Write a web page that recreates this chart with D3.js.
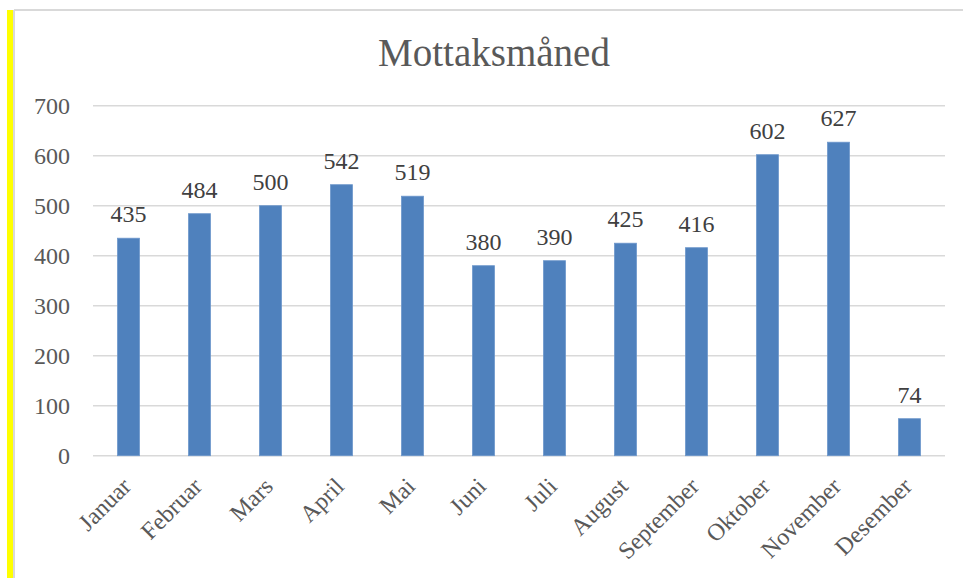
<!DOCTYPE html>
<html>
<head>
<meta charset="utf-8">
<script src="https://cdn.jsdelivr.net/npm/d3@7"></script>
<style>
  body { margin: 0; background: #fff; }
  svg text { font-family: "Liberation Serif", "DejaVu Serif", serif; fill: #595959; }
</style>
</head>
<body>
<svg id="chart"></svg>
<script>
const months = ["Januar", "Februar", "Mars", "April", "Mai", "Juni", "Juli",
  "August", "September", "Oktober", "November", "Desember"];
const counts = [435, 484, 500, 542, 519, 380, 390, 425, 416, 602, 627, 74];
const yTicks = [0, 100, 200, 300, 400, 500, 600, 700];

const width = 963;
const height = 578;

const svg = d3.select("#chart")
  .attr("width", width)
  .attr("height", height);

// yellow margin strip + chart frame
svg.append("rect").attr("x", 7).attr("y", 10).attr("width", 6).attr("height", height - 10).attr("fill", "#ffff00");
svg.append("line").attr("x1", 14).attr("x2", width).attr("y1", 10).attr("y2", 10)
  .attr("stroke", "#d9d9d9").attr("stroke-width", 2);
svg.append("line").attr("x1", 14).attr("x2", 14).attr("y1", 10).attr("y2", height)
  .attr("stroke", "#d9d9d9").attr("stroke-width", 2);

const x = d3.scaleBand().domain(months).range([93, 945]).paddingInner(0.69).paddingOuter(0.345);
const y = d3.scaleLinear().domain([0, 700]).range([455.7, 105.7]);

svg.append("text")
  .attr("x", 494).attr("y", 66)
  .attr("text-anchor", "middle")
  .style("font-size", "39px")
  .text("Mottaksmåned");

// gridlines
svg.append("g")
  .selectAll("line")
  .data(yTicks)
  .join("line")
  .attr("x1", 93).attr("x2", 945)
  .attr("y1", (d) => y(d)).attr("y2", (d) => y(d))
  .attr("stroke", "#d9d9d9").attr("stroke-width", 1.5);

svg.append("g")
  .selectAll("text")
  .data(yTicks)
  .join("text")
  .attr("x", 70)
  .attr("y", (d) => y(d))
  .attr("dy", "0.35em")
  .attr("text-anchor", "end")
  .style("font-size", "24px")
  .text((d) => d);

svg.append("g")
  .selectAll("rect")
  .data(counts)
  .join("rect")
  .attr("x", (d, i) => x(months[i]))
  .attr("width", x.bandwidth())
  .attr("y", (d) => y(d))
  .attr("height", (d) => y(0) - y(d))
  .attr("fill", "#4f81bd")
  .attr("stroke", "#6d97cb")
  .attr("stroke-width", 0.8);

svg.append("g")
  .selectAll("text")
  .data(counts)
  .join("text")
  .attr("x", (d, i) => x(months[i]) + x.bandwidth() / 2)
  .attr("y", (d) => y(d) - 16)
  .attr("text-anchor", "middle")
  .style("font-size", "24px")
  .style("fill", "#404040")
  .text((d) => d);

svg.append("g")
  .selectAll("text")
  .data(months)
  .join("text")
  .attr("text-anchor", "end")
  .attr("transform", (d) => `translate(${x(d) + x.bandwidth() / 2 - 8},${476}) rotate(-45)`)
  .attr("dy", "0.7em")
  .style("font-size", "24px")
  .text((d) => d);
</script>
</body>
</html>
